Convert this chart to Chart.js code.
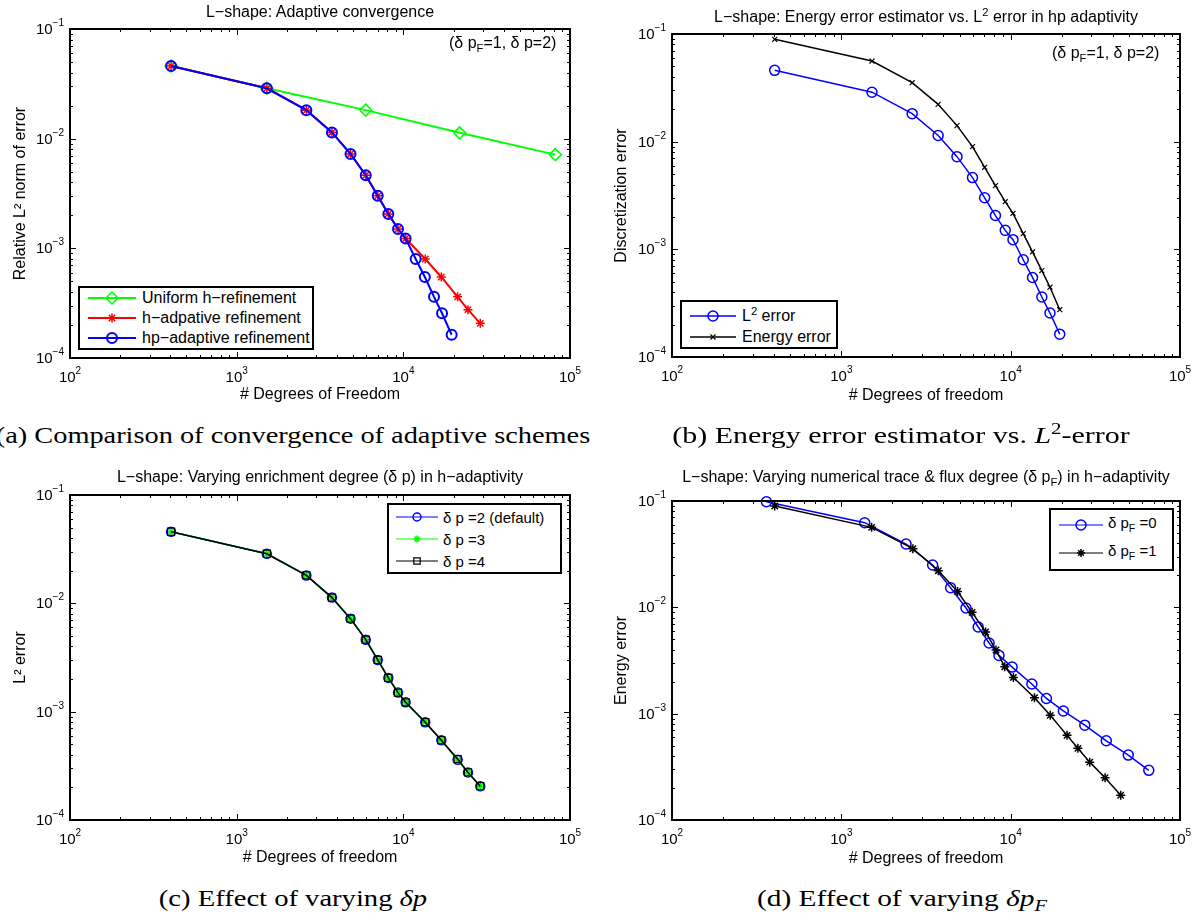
<!DOCTYPE html>
<html lang="en">
<head>
<meta charset="UTF-8">
<title>L-shape: adaptive convergence study</title>
<script src="https://cdn.jsdelivr.net/npm/chart.js"></script>
<style>
  body { margin: 0; background: #fff; }
  #fig { position: relative; width: 1198px; height: 916px; overflow: hidden; background: #fff;
         font-family: "Liberation Sans", Arial, Helvetica, sans-serif; color: #000; }
  #fig canvas { position: absolute; }
  .title, .cap { position: absolute; white-space: nowrap; transform: translate(-50%, -50%); }
  .title { font-size: 16px; }
  .note { position: absolute; white-space: nowrap; font-size: 16px; transform: translateY(-50%); }
  .cap { font-family: "Liberation Serif", "DejaVu Serif", serif; font-size: 24px; }
  .legend { position: absolute; box-sizing: border-box; border: 2px solid #000; background: #fff; }
  .legend span { position: absolute; white-space: nowrap; transform: translateY(-50%); }
  sub, sup { font-size: 70%; line-height: 0; }
</style>
</head>
<body>
<div id="fig">
  <canvas id="chartA"></canvas>
  <canvas id="chartB"></canvas>
  <canvas id="chartC"></canvas>
  <canvas id="chartD"></canvas>

  <div class="title" style="left:320px;top:12px">L&minus;shape: Adaptive convergence</div>
  <div class="title" style="left:926px;top:17px">L&minus;shape: Energy error estimator vs. L<sup>2</sup> error in hp adaptivity</div>
  <div class="title" style="left:320px;top:477px">L&minus;shape: Varying enrichment degree (&delta; p) in h&minus;adaptivity</div>
  <div class="title" style="left:926px;top:477px">L&minus;shape: Varying numerical trace &amp; flux degree (&delta; p<sub>F</sub>) in h&minus;adaptivity</div>

  <div class="note" style="left:449px;top:43px">(&delta; p<sub>F</sub>=1, &delta; p=2)</div>
  <div class="note" style="left:1052px;top:53px">(&delta; p<sub>F</sub>=1, &delta; p=2)</div>

  <div class="cap" data-w="594" style="left:293px;top:435px">(a) Comparison of convergence of adaptive schemes</div>
  <div class="cap" data-w="458" style="left:901px;top:435px">(b) Energy error estimator vs. <i>L</i><sup>2</sup>-error</div>
  <div class="cap" data-w="268" style="left:293px;top:898px">(c) Effect of varying <i>&delta;p</i></div>
  <div class="cap" data-w="290" style="left:902px;top:898px">(d) Effect of varying <i>&delta;p<sub>F</sub></i></div>
</div>

<script>
// ---- values ----
const xRange = [1e2, 1e5];   // # degrees of freedom
const yRange = [1e-4, 1e-1]; // error

// (a) adaptive convergence
const dofUniform = [404, 1517, 5950, 21770, 81630];
const errUniform = [0.0460, 0.0288, 0.0182, 0.0113, 0.00715];
const dofH = [404, 1517, 2620, 3730, 4820, 5950, 7020, 8130, 9290, 10320, 13530, 16900, 21170, 24430, 28950];
const errH = [0.0460, 0.0288, 0.0182, 0.0114, 0.00726, 0.00464, 0.00301, 0.00206, 0.00150, 0.00123, 0.00080, 0.000548, 0.000361, 0.000276, 0.000207];
const dofHp = [404, 1517, 2620, 3730, 4820, 5950, 7020, 8130, 9290, 10320, 11860, 13460, 15280, 17070, 19490];
const errHp = [0.0460, 0.0288, 0.0182, 0.0114, 0.00726, 0.00464, 0.00301, 0.00206, 0.00150, 0.00123, 0.00080, 0.000548, 0.000361, 0.000256, 0.000163];

// (b) energy estimator vs L2 error (hp)
const errEnergy = [0.0893, 0.0561, 0.0353, 0.0222, 0.0141, 0.0090, 0.00578, 0.00391, 0.00277, 0.00216, 0.00140, 0.000946, 0.000634, 0.000445, 0.000275];

// (c) enrichment degree
const dofDp = [404, 1517, 2620, 3730, 4820, 5950, 7020, 8130, 9290, 10320, 13530, 16900, 21170, 24430, 28950];
const errDp2 = [0.0458, 0.0287, 0.0181, 0.0113, 0.00722, 0.00462, 0.00300, 0.00205, 0.00150, 0.00122, 0.00080, 0.000545, 0.000360, 0.000275, 0.000205];
const errDp3 = [0.0458, 0.0287, 0.0181, 0.0113, 0.00722, 0.00462, 0.00300, 0.00205, 0.00150, 0.00122, 0.00080, 0.000545, 0.000358, 0.000275, 0.000205];
const errDp4 = [0.0458, 0.0287, 0.0181, 0.0113, 0.00722, 0.00462, 0.00300, 0.00205, 0.00150, 0.00122, 0.00080, 0.000545, 0.000365, 0.000275, 0.000205];

// (d) trace & flux degree
const dofPf0 = [361, 1374, 2411, 3460, 4418, 5448, 6430, 7458, 8530, 10200, 13340, 16260, 20470, 27400, 36700, 49500, 65400];
const errPf0 = [0.0985, 0.0625, 0.0394, 0.0250, 0.0153, 0.00985, 0.00653, 0.00462, 0.00353, 0.00274, 0.00190, 0.00139, 0.00106, 0.00078, 0.000556, 0.000408, 0.000293];
const dofPf1 = [404, 1510, 2646, 3741, 4856, 5917, 7112, 8188, 9226, 10380, 13820, 17130, 21530, 24950, 29300, 36100, 44650];
const errPf1 = [0.0897, 0.0565, 0.0356, 0.0221, 0.0141, 0.00897, 0.00586, 0.00397, 0.00276, 0.00219, 0.00141, 0.000964, 0.000625, 0.000472, 0.00035, 0.00025, 0.000171];

const FONT = '"Liberation Sans", Arial, Helvetica, sans-serif';
const SUP = { '-': '\u207B', '0': '\u2070', '1': '\u00B9', '2': '\u00B2', '3': '\u00B3', '4': '\u2074', '5': '\u2075' };

function isDecade(v) {
  const e = Math.log10(v);
  return Math.abs(e - Math.round(e)) < 1e-6;
}
function powLabel(v) {
  if (!isDecade(v)) return '';
  return '10' + String(Math.round(Math.log10(v))).split('').map(c => SUP[c]).join('');
}

// 1..9 x 10^k ticks like matlab log axes
function decadeTicks(min, max) {
  const out = [];
  for (let e = Math.round(Math.log10(min)); e <= Math.round(Math.log10(max)); e++) {
    for (let m = 1; m <= 9; m++) {
      const v = m * Math.pow(10, e);
      if (v > max * 1.0001) break;
      out.push({ value: v, major: m === 1 });
    }
  }
  return out;
}

// "10" with a raised exponent, y is the baseline of "10"
function drawPow(ctx, v, x, y, align) {
  const base = '10';
  const exp = String(Math.round(Math.log10(v))).replace('-', '\u2212');
  ctx.font = '15px ' + FONT;
  const wb = ctx.measureText(base).width;
  ctx.font = '10px ' + FONT;
  const we = ctx.measureText(exp).width;
  const x0 = align === 'center' ? x - (wb + we) / 2 : x - wb - we;
  ctx.textAlign = 'left';
  ctx.textBaseline = 'alphabetic';
  ctx.font = '15px ' + FONT;
  ctx.fillText(base, x0, y);
  ctx.font = '10px ' + FONT;
  ctx.fillText(exp, x0 + wb, y - 8);
}

// box, inward tick marks on all four sides and 10^k labels
const matlabBox = {
  id: 'matlabBox',
  afterDraw(chart) {
    const { ctx, chartArea: a, scales: { x, y } } = chart;
    ctx.save();
    ctx.strokeStyle = '#000';
    ctx.fillStyle = '#000';
    ctx.lineWidth = 1;
    ctx.beginPath();
    x.ticks.forEach(t => {
      const px = Math.round(x.getPixelForValue(t.value)) + 0.5;
      const len = t.major ? 6 : 3;
      ctx.moveTo(px, a.bottom); ctx.lineTo(px, a.bottom - len);
      ctx.moveTo(px, a.top); ctx.lineTo(px, a.top + len);
    });
    y.ticks.forEach(t => {
      const py = Math.round(y.getPixelForValue(t.value)) + 0.5;
      const len = t.major ? 6 : 3;
      ctx.moveTo(a.left, py); ctx.lineTo(a.left + len, py);
      ctx.moveTo(a.right, py); ctx.lineTo(a.right - len, py);
    });
    ctx.stroke();
    ctx.lineWidth = 2;
    ctx.strokeRect(a.left, a.top, a.right - a.left, a.bottom - a.top);
    x.ticks.filter(t => isDecade(t.value)).forEach(t => drawPow(ctx, t.value, x.getPixelForValue(t.value), a.bottom + 24, 'center'));
    y.ticks.filter(t => isDecade(t.value)).forEach(t => drawPow(ctx, t.value, a.left - 6, y.getPixelForValue(t.value) + 5, 'right'));
    ctx.restore();
  }
};

function makeChart(p, series) {
  const cv = document.getElementById(p.canvas);
  cv.width = p.w; cv.height = p.h;
  cv.style.left = p.left + 'px'; cv.style.top = p.top + 'px';
  const titleFont = { family: FONT, size: 16 };
  return new Chart(cv, {
    type: 'line',
    data: {
      datasets: series.map(s => ({
        label: s.label,
        data: s.xs.map((x, i) => ({ x: x, y: s.ys[i] })),
        borderColor: s.color,
        backgroundColor: s.color,
        borderWidth: s.lw,
        pointStyle: s.style,
        pointRadius: s.r,
        pointHoverRadius: s.r,
        pointBorderWidth: s.pw,
        pointBorderColor: s.color,
        pointBackgroundColor: 'rgba(0,0,0,0)',
        tension: 0,
        fill: false,
        clip: false,
        order: s.order
      }))
    },
    options: {
      responsive: false,
      animation: false,
      events: [],
      layout: { padding: { left: 0, top: p.area.top, right: p.w - p.area.right, bottom: 0 } },
      plugins: { legend: { display: false }, tooltip: { enabled: false }, title: { display: false } },
      scales: {
        x: {
          type: 'logarithmic', min: xRange[0], max: xRange[1],
          grid: { display: false }, border: { display: false },
          afterBuildTicks: s => { s.ticks = decadeTicks(s.min, s.max); },
          afterFit: s => { s.height = p.h - p.area.bottom; s.paddingLeft = 0; s.paddingRight = 0; },
          ticks: { display: false, autoSkip: false, callback: powLabel },
          title: { display: true, text: p.xTitle, color: '#000', font: titleFont, padding: { top: 0, bottom: p.xTitlePad } }
        },
        y: {
          type: 'logarithmic', min: yRange[0], max: yRange[1],
          grid: { display: false }, border: { display: false },
          afterBuildTicks: s => { s.ticks = decadeTicks(s.min, s.max); },
          afterFit: s => { s.width = p.area.left; s.paddingTop = 0; s.paddingBottom = 0; },
          ticks: { display: false, autoSkip: false, callback: powLabel },
          title: { display: true, text: p.yTitle, color: '#000', font: titleFont, padding: { top: p.yTitlePad, bottom: 0 } }
        }
      }
    },
    plugins: [matlabBox]
  });
}

function drawMarker(ctx, style, x, y, r, lw, color) {
  const d = r * Math.SQRT1_2;
  ctx.save();
  ctx.strokeStyle = color; ctx.lineWidth = lw;
  ctx.beginPath();
  if (style === 'circle') {
    ctx.arc(x, y, r, 0, 2 * Math.PI);
  } else if (style === 'rectRot') {
    ctx.moveTo(x, y - r); ctx.lineTo(x + r, y); ctx.lineTo(x, y + r); ctx.lineTo(x - r, y); ctx.closePath();
  } else if (style === 'rect') {
    ctx.rect(x - d, y - d, 2 * d, 2 * d);
  } else {
    if (style === 'star') { ctx.moveTo(x - r, y); ctx.lineTo(x + r, y); ctx.moveTo(x, y - r); ctx.lineTo(x, y + r); }
    ctx.moveTo(x - d, y - d); ctx.lineTo(x + d, y + d); ctx.moveTo(x - d, y + d); ctx.lineTo(x + d, y - d);
  }
  ctx.stroke();
  ctx.restore();
}

// matlab style legend box laid over the chart
function makeLegend(lg) {
  const [bx0, by0, bx1, by1] = lg.box;
  const box = document.createElement('div');
  box.className = 'legend';
  box.style.left = bx0 + 'px'; box.style.top = by0 + 'px';
  box.style.width = (bx1 - bx0) + 'px'; box.style.height = (by1 - by0) + 'px';
  lg.items.forEach((it, i) => {
    const rowY = lg.rows[i];
    const w = lg.line[1] - lg.line[0];
    const cv = document.createElement('canvas');
    cv.width = w; cv.height = 20;
    cv.style.left = (lg.line[0] - bx0 - 2) + 'px';
    cv.style.top = (rowY - 10 - by0 - 2) + 'px';
    const ctx = cv.getContext('2d');
    ctx.strokeStyle = it.color; ctx.lineWidth = it.lw;
    ctx.beginPath(); ctx.moveTo(0, 10); ctx.lineTo(w, 10); ctx.stroke();
    drawMarker(ctx, it.style, lg.marker - lg.line[0], 10, it.r, it.pw, it.color);
    box.appendChild(cv);
    const sp = document.createElement('span');
    sp.innerHTML = it.html;
    sp.style.fontSize = lg.fontSize + 'px';
    sp.style.left = (lg.text - bx0 - 2) + 'px';
    sp.style.top = (rowY + (lg.textShift || 0) - by0 - 2) + 'px';
    box.appendChild(sp);
  });
  document.getElementById('fig').appendChild(box);
}

// (a)
makeChart(
  { canvas: 'chartA', left: 0, top: 0, w: 600, h: 420, area: { left: 70, right: 570, top: 29, bottom: 358 },
    xTitle: '# Degrees of Freedom', yTitle: 'Relative L\u00B2 norm of error', xTitlePad: 16, yTitlePad: 11 },
  [
    { label: 'Uniform h\u2212refinement', xs: dofUniform, ys: errUniform, color: '#00ff00', style: 'rectRot', r: 6, pw: 1.5, lw: 2, order: 2 },
    { label: 'h\u2212adpative refinement', xs: dofH, ys: errH, color: '#ff0000', style: 'star', r: 4.5, pw: 1.5, lw: 2, order: 1 },
    { label: 'hp\u2212adaptive refinement', xs: dofHp, ys: errHp, color: '#0000ff', style: 'circle', r: 5, pw: 2, lw: 2, order: 0 }
  ]
);

// (b)
makeChart(
  { canvas: 'chartB', left: 600, top: 0, w: 598, h: 420, area: { left: 72, right: 580, top: 34, bottom: 357 },
    xTitle: '# Degrees of freedom', yTitle: 'Discretization error', xTitlePad: 15, yTitlePad: 12 },
  [
    { label: 'L\u00B2 error', xs: dofHp, ys: errHp, color: '#0000ff', style: 'circle', r: 5, pw: 1.5, lw: 1.5, order: 1 },
    { label: 'Energy error', xs: dofHp, ys: errEnergy, color: '#000000', style: 'crossRot', r: 3.5, pw: 1.2, lw: 1.5, order: 0 }
  ]
);

// (c)
makeChart(
  { canvas: 'chartC', left: 0, top: 456, w: 600, h: 420, area: { left: 70, right: 570, top: 39, bottom: 364 },
    xTitle: '# Degrees of freedom', yTitle: 'L\u00B2 error', xTitlePad: 9, yTitlePad: 11 },
  [
    { label: '\u03B4 p =2 (default)', xs: dofDp, ys: errDp2, color: '#0000ff', style: 'circle', r: 4.5, pw: 1.5, lw: 1.5, order: 2 },
    { label: '\u03B4 p =3', xs: dofDp, ys: errDp3, color: '#00ff00', style: 'star', r: 4, pw: 1.5, lw: 1.5, order: 1 },
    { label: '\u03B4 p =4', xs: dofDp, ys: errDp4, color: '#000000', style: 'rect', r: 5, pw: 1.2, lw: 1.5, order: 0 }
  ]
);

// (d)
makeChart(
  { canvas: 'chartD', left: 600, top: 456, w: 598, h: 420, area: { left: 72, right: 580, top: 45, bottom: 364 },
    xTitle: '# Degrees of freedom', yTitle: 'Energy error', xTitlePad: 8, yTitlePad: 12 },
  [
    { label: '\u03B4 pF =0', xs: dofPf0, ys: errPf0, color: '#0000ff', style: 'circle', r: 5, pw: 1.5, lw: 1.5, order: 1 },
    { label: '\u03B4 pF =1', xs: dofPf1, ys: errPf1, color: '#000000', style: 'star', r: 4.5, pw: 1.5, lw: 1.5, order: 0 }
  ]
);

makeLegend({ box: [78, 286, 314, 350], line: [88, 136], marker: 112, text: 142, rows: [298, 318, 338], fontSize: 16, items: [
  { html: 'Uniform h&minus;refinement', color: '#00ff00', style: 'rectRot', r: 6, pw: 1.5, lw: 2 },
  { html: 'h&minus;adpative refinement', color: '#ff0000', style: 'star', r: 4.5, pw: 1.5, lw: 2 },
  { html: 'hp&minus;adaptive refinement', color: '#0000ff', style: 'circle', r: 5, pw: 2, lw: 2 }
] });
makeLegend({ box: [680, 300, 838, 349], line: [690, 736], marker: 713, text: 742, rows: [316, 337], fontSize: 16, items: [
  { html: 'L<sup>2</sup> error', color: '#0000ff', style: 'circle', r: 5, pw: 1.5, lw: 1.5 },
  { html: 'Energy error', color: '#000000', style: 'crossRot', r: 3.5, pw: 1.2, lw: 1.5 }
] });
makeLegend({ box: [387, 503, 562, 574], line: [396, 438], marker: 417, text: 443, rows: [517, 539, 561], fontSize: 15, items: [
  { html: '&delta; p =2 (default)', color: '#0000ff', style: 'circle', r: 4, pw: 1.5, lw: 1.2 },
  { html: '&delta; p =3', color: '#00ff00', style: 'star', r: 3.5, pw: 1.5, lw: 1.2 },
  { html: '&delta; p =4', color: '#000000', style: 'rect', r: 4.5, pw: 1.2, lw: 1.2 }
] });
makeLegend({ box: [1049, 508, 1174, 571], line: [1059, 1103], marker: 1081, text: 1108, rows: [525, 553], textShift: -3, fontSize: 15, items: [
  { html: '&delta; p<sub>F</sub> =0', color: '#0000ff', style: 'circle', r: 5, pw: 1.5, lw: 1.2 },
  { html: '&delta; p<sub>F</sub> =1', color: '#000000', style: 'star', r: 4, pw: 1.5, lw: 1.2 }
] });

// stretch the serif captions to the width they have in the figure
document.querySelectorAll('.cap').forEach(el => {
  const k = (+el.dataset.w) / el.offsetWidth;
  el.style.transform = 'translate(-50%, -50%) scaleX(' + k.toFixed(3) + ')';
});
</script>
</body>
</html>
